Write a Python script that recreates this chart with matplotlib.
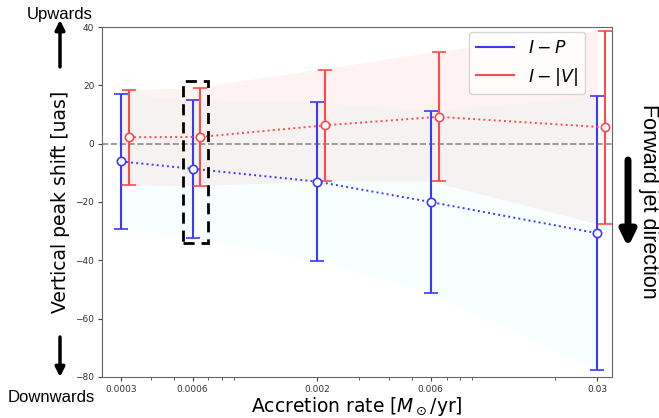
import matplotlib.pyplot as plt
import numpy as np
from matplotlib.lines import Line2D
from matplotlib.patches import Rectangle
from matplotlib.ticker import NullFormatter

# accretion rates (Msun/yr) and tick labels
rates = np.array([0.0003, 0.0006, 0.002, 0.006, 0.03])
rate_labels = ['0.0003', '0.0006', '0.002', '0.006', '0.03']

# vertical peak shift of I-P and I-|V| (uas) with 1-sigma errors
ip_shift = np.array([-6.1, -8.6, -13.0, -20.0, -30.7])
ip_err = np.array([23.2, 23.7, 27.2, 31.3, 46.9])
iv_shift = np.array([2.2, 2.3, 6.3, 9.2, 5.6])
iv_err = np.array([16.3, 16.8, 19.1, 22.1, 33.1])

blue = '#3a3aff'
red = '#ff4a4a'
side_font = 'Liberation Sans'

fig = plt.figure(figsize=(6.59, 4.18), dpi=100)
ax = fig.add_axes([0.1548, 0.0981, 0.7739, 0.8373])

# shaded spread of each series
ax.fill_between(rates, ip_shift - ip_err, ip_shift + ip_err, color='cyan', alpha=0.03, lw=0)
ax.fill_between(rates, iv_shift - iv_err, iv_shift + iv_err, color='red', alpha=0.05, lw=0)

ax.axhline(0, color='gray', ls='--', lw=1.2, alpha=0.9, zorder=1)

ax.errorbar(rates, ip_shift, yerr=ip_err, fmt='o:', color=blue, lw=1.4, elinewidth=1.5,
            capsize=5, capthick=1.2, ms=6, mfc='white', mec=blue, mew=1.2, zorder=3)
# I-|V| drawn slightly to the right so the bars do not overlap
ax.errorbar(rates * 1.08, iv_shift, yerr=iv_err, fmt='o:', color=red, lw=1.4, elinewidth=1.5,
            capsize=5, capthick=1.2, ms=6, mfc='white', mec=red, mew=1.2, zorder=3)

# highlight box around the 0.0006 model
ax.add_patch(Rectangle((0.000547, -33.9), 0.000698 - 0.000547, 55.4, fill=False,
                       ec='black', lw=2, ls=(0, (4, 2.5)), zorder=4))

ax.set_xscale('log')
ax.set_xlim(0.00025, 0.0347)
ax.set_ylim(-80, 40)
ax.set_xticks(rates, rate_labels)
ax.xaxis.set_minor_formatter(NullFormatter())
ax.set_yticks(np.arange(-80, 41, 20))
ax.tick_params(which='major', labelsize=6.5, length=3, pad=2.5, colors='#444444', labelcolor='#333333')
ax.tick_params(which='minor', length=2, colors='#444444')
for sp in ax.spines.values():
    sp.set_color('#666666')

ax.set_xlabel(r'Accretion rate [$M_\odot$/yr]', fontsize=13.5, labelpad=1)
ax.set_ylabel('Vertical peak shift [uas]', fontsize=13.5, labelpad=4)

handles = [Line2D([], [], color=blue, lw=1.5), Line2D([], [], color=red, lw=1.5)]
ax.legend(handles, [r'$I-P$', r'$I-|V|$'], loc='upper right', bbox_to_anchor=(0.947, 0.986),
          borderaxespad=0, fontsize=12.5, handlelength=2.2)

# direction hints around the axes
fig.text(60 / 659, 1 - 15 / 418, 'Upwards', fontsize=12, family=side_font, ha='center', va='center')
fig.text(51 / 659, 1 - 398 / 418, 'Downwards', fontsize=12, family=side_font, ha='center', va='center')
fig.text(648 / 659, 1 - 201 / 418, 'Forward jet direction', fontsize=15.5, family=side_font,
         rotation=-90, ha='center', va='center')

arrow_thin = dict(arrowstyle='-|>', lw=2.5, color='black', mutation_scale=14, shrinkA=0, shrinkB=0)
arrow_thick = dict(arrowstyle='-|>', lw=5, color='black', mutation_scale=22, shrinkA=0, shrinkB=0)
fig.add_artist(plt.Annotation('', xy=(60 / 659, 1 - 20 / 418), xytext=(60 / 659, 1 - 67 / 418),
                              xycoords='figure fraction', arrowprops=arrow_thin))
fig.add_artist(plt.Annotation('', xy=(60 / 659, 1 - 377 / 418), xytext=(60 / 659, 1 - 337 / 418),
                              xycoords='figure fraction', arrowprops=arrow_thin))
fig.add_artist(plt.Annotation('', xy=(628 / 659, 1 - 247 / 418), xytext=(628 / 659, 1 - 160 / 418),
                              xycoords='figure fraction', arrowprops=arrow_thick))

fig.savefig('out.png', dpi=100)
